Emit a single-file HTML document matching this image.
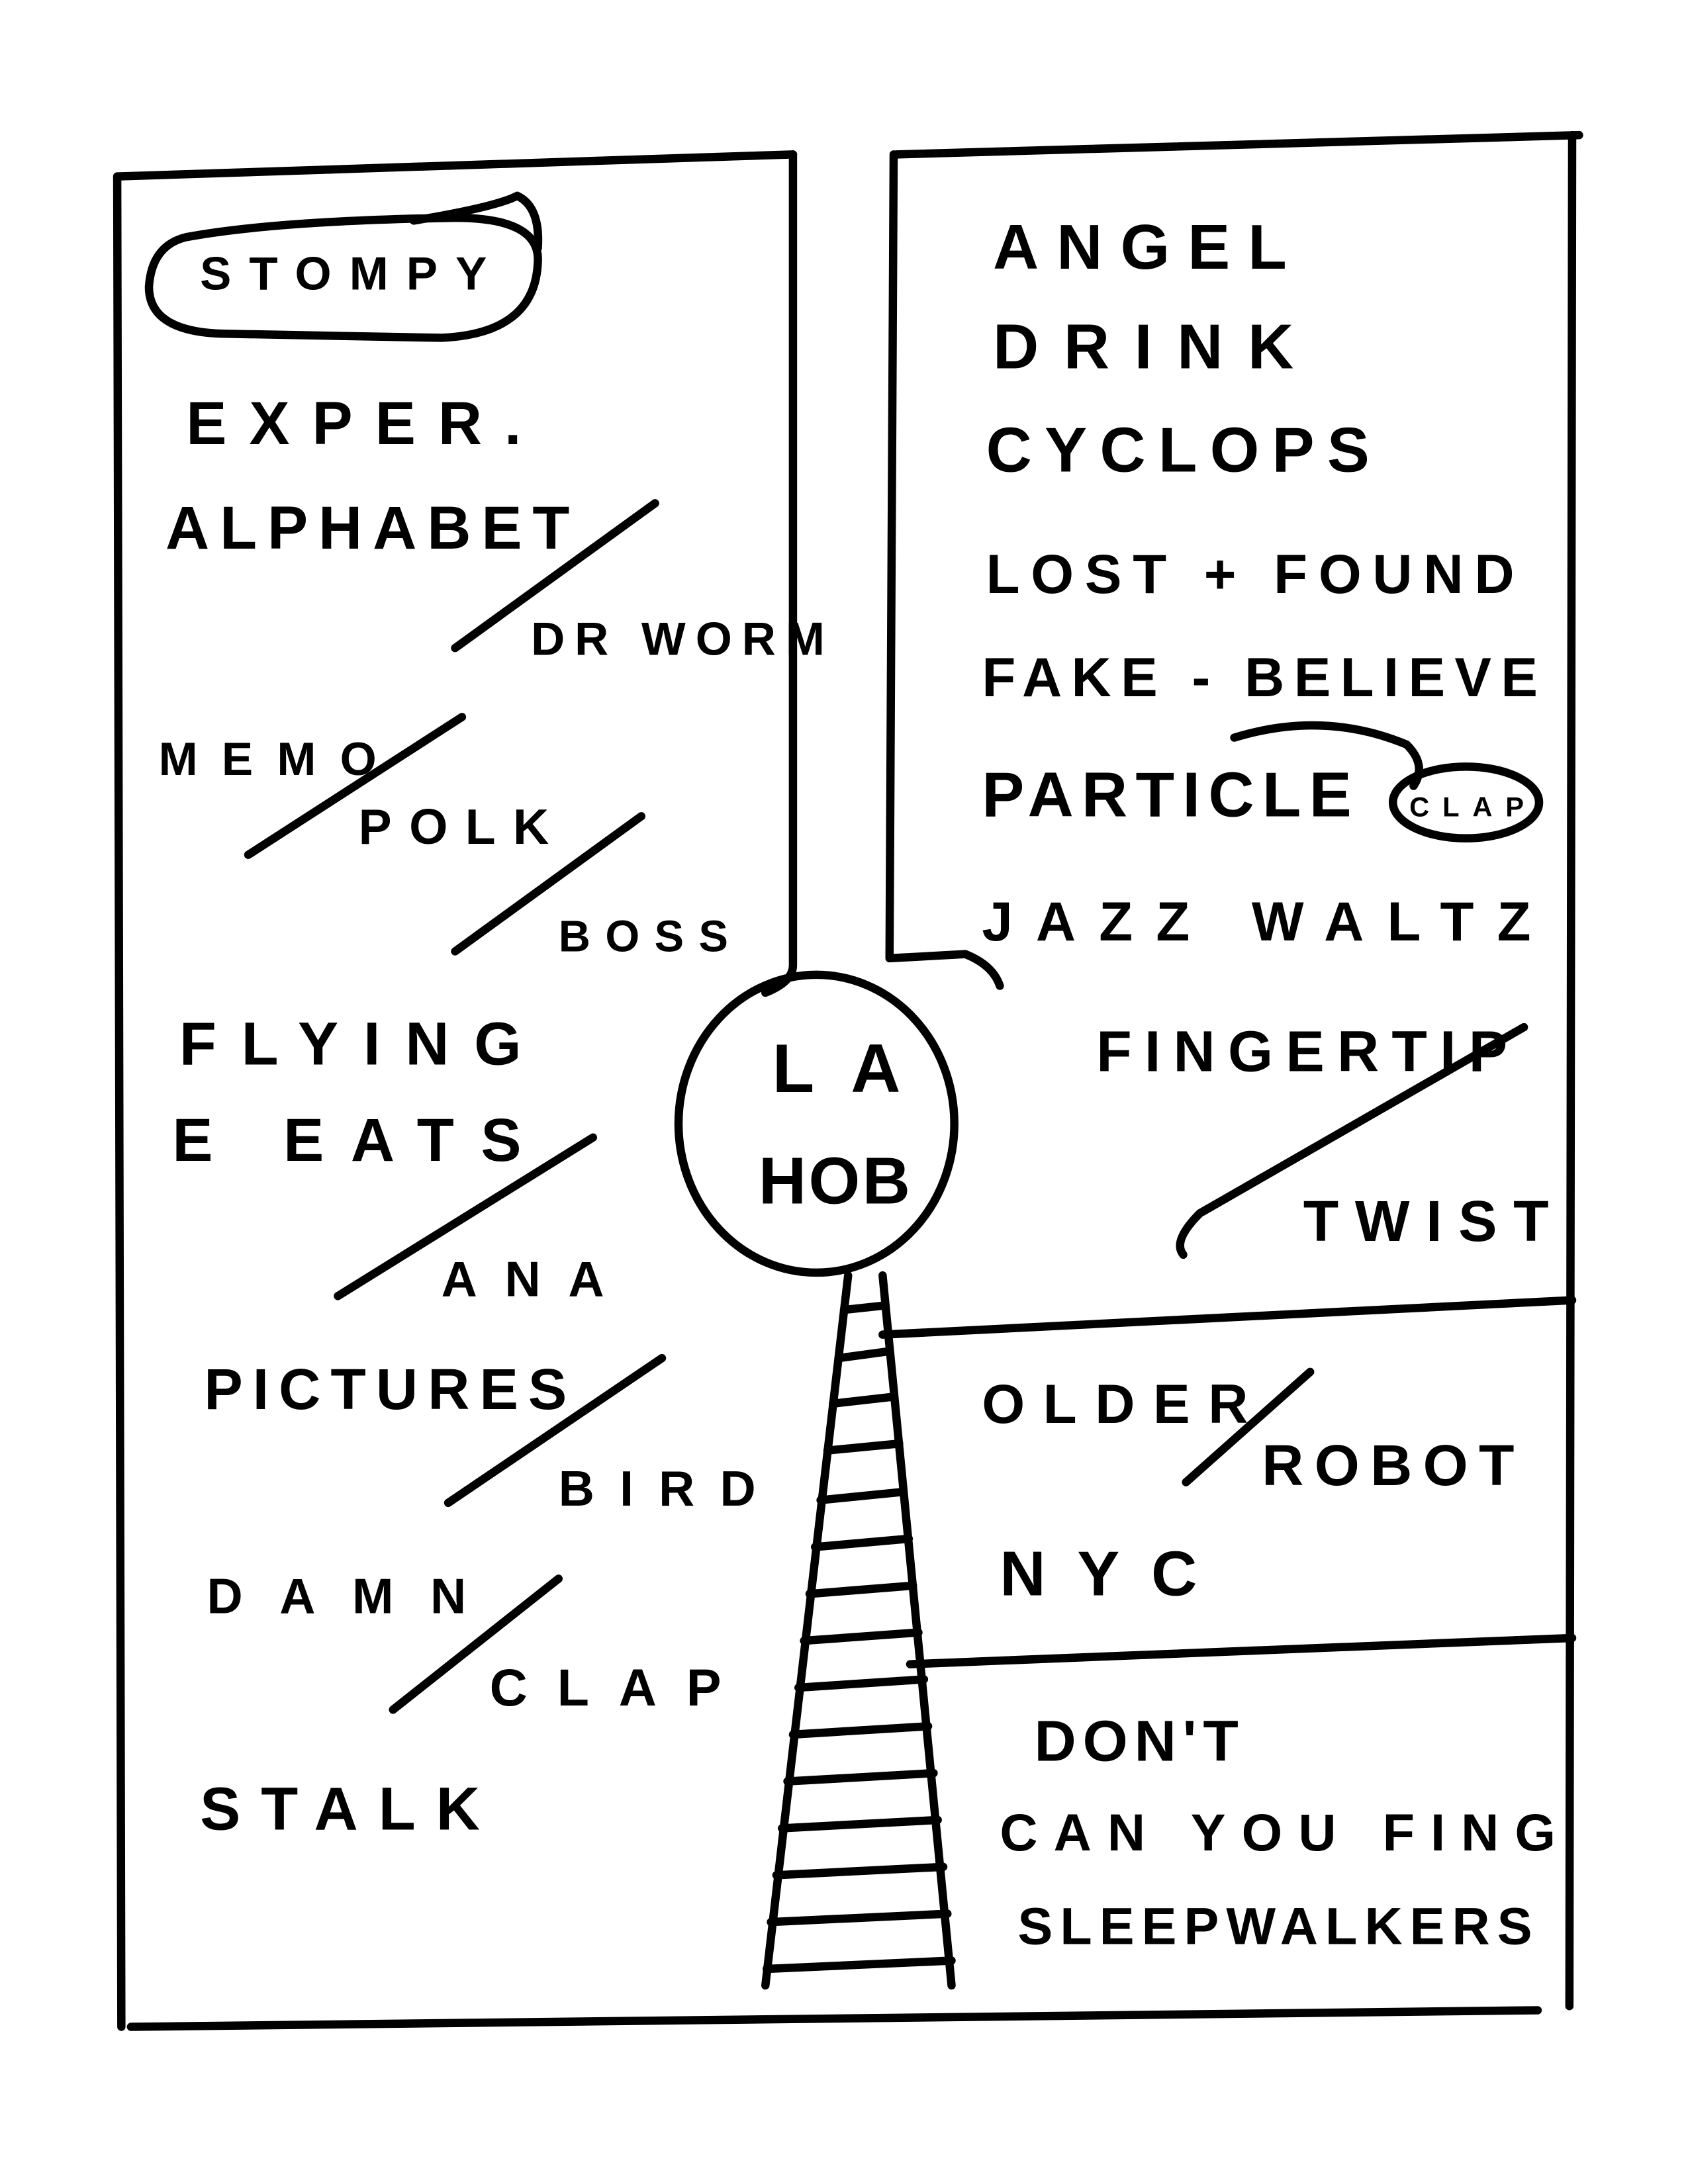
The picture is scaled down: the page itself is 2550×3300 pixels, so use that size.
<!DOCTYPE html>
<html><head><meta charset="utf-8"><style>
html,body{margin:0;padding:0;background:#fff;}
svg{display:block;}
text{font-family:"Liberation Sans",sans-serif;fill:#000;letter-spacing:2px;font-weight:bold;}
</style></head><body>
<svg width="2550" height="3300" viewBox="0 0 1224 1584" preserveAspectRatio="none" xmlns="http://www.w3.org/2000/svg">
<g fill="none" stroke="#000" stroke-width="6" stroke-linecap="round" stroke-linejoin="round">
<path d="M85,128 L575,112"/>
<path d="M85,128 L88,1470"/>
<path d="M575,112 L575,700 Q575,712 555,720"/>
<path d="M650,112 L1145,98"/>
<path d="M1140,98 L1138,1455"/>
<path d="M648,112 L645,695 L700,692 Q720,700 725,715"/>
<ellipse cx="592" cy="815" rx="100" ry="108"/>
<path d="M615,925 L555,1440"/>
<path d="M640,925 L690,1440"/>
<path d="M640,968 L1140,943"/>
<path d="M660,1207 L1140,1188"/>
<path d="M95,1470 L1115,1458"/>
<path d="M135,172 Q200,160 330,158 Q392,158 390,190 Q388,242 320,245 L160,242 Q108,240 108,208 Q110,178 135,172"/>
<path d="M300,160 Q360,150 375,142 Q392,150 390,180"/>
<path d="M330,470 L475,365"/>
<path d="M180,620 L335,520"/>
<path d="M330,690 L465,592"/>
<path d="M245,940 L430,825"/>
<path d="M325,1090 L480,985"/>
<path d="M285,1240 L405,1145"/>
<path d="M858,910 Q850,900 870,880 L1105,745"/>
<path d="M860,1075 L950,995"/>
<path d="M895,535 Q960,515 1020,540 Q1035,555 1025,570"/>
<ellipse cx="1063" cy="582" rx="53" ry="26"/>
</g>
<g stroke="#000" stroke-width="6" stroke-linecap="round">
<line x1="612" y1="950" x2="640" y2="947"/>
<line x1="608" y1="985" x2="645" y2="980"/>
<line x1="604" y1="1018" x2="648" y2="1013"/>
<line x1="600" y1="1052" x2="652" y2="1047"/>
<line x1="595" y1="1088" x2="655" y2="1082"/>
<line x1="591" y1="1122" x2="659" y2="1116"/>
<line x1="587" y1="1156" x2="662" y2="1150"/>
<line x1="583" y1="1190" x2="666" y2="1184"/>
<line x1="579" y1="1224" x2="670" y2="1218"/>
<line x1="575" y1="1258" x2="673" y2="1252"/>
<line x1="571" y1="1292" x2="677" y2="1286"/>
<line x1="567" y1="1326" x2="680" y2="1320"/>
<line x1="563" y1="1360" x2="684" y2="1354"/>
<line x1="559" y1="1394" x2="687" y2="1388"/>
<line x1="556" y1="1428" x2="690" y2="1422"/>
</g>
<g>
<text x="145" y="210" font-size="34" textLength="210">STOMPY</text>
<text x="135" y="322" font-size="44" textLength="245">EXPER.</text>
<text x="120" y="398" font-size="44" textLength="295">ALPHABET</text>
<text x="385" y="475" font-size="34" textLength="215">DR WORM</text>
<text x="115" y="562" font-size="34" textLength="160">MEMO</text>
<text x="260" y="612" font-size="36" textLength="140">POLK</text>
<text x="405" y="690" font-size="32" textLength="125">BOSS</text>
<text x="130" y="772" font-size="44" textLength="250">FLYING</text>
<text x="125" y="842" font-size="44" textLength="255">E EATS</text>
<text x="320" y="940" font-size="36" textLength="120">ANA</text>
<text x="148" y="1022" font-size="42" textLength="265">PICTURES</text>
<text x="405" y="1092" font-size="36" textLength="145">BIRD</text>
<text x="150" y="1170" font-size="36" textLength="190">DAMN</text>
<text x="355" y="1237" font-size="38" textLength="170">CLAP</text>
<text x="145" y="1327" font-size="44" textLength="205">STALK</text>
<text x="720" y="195" font-size="46" textLength="215">ANGEL</text>
<text x="720" y="267" font-size="46" textLength="220">DRINK</text>
<text x="715" y="342" font-size="46" textLength="280">CYCLOPS</text>
<text x="715" y="430" font-size="40" textLength="385">LOST  +  FOUND</text>
<text x="712" y="505" font-size="40" textLength="405">FAKE - BELIEVE</text>
<text x="712" y="592" font-size="46" textLength="270">PARTICLE</text>
<text x="1022" y="592" font-size="20" textLength="85">CLAP</text>
<text x="712" y="682" font-size="40" textLength="400">JAZZ  WALTZ</text>
<text x="795" y="777" font-size="42" textLength="300">FINGERTIP</text>
<text x="945" y="900" font-size="42" textLength="180">TWIST</text>
<text x="712" y="1032" font-size="40" textLength="195">OLDER</text>
<text x="915" y="1077" font-size="42" textLength="185">ROBOT</text>
<text x="725" y="1157" font-size="46" textLength="145">NYC</text>
<text x="750" y="1277" font-size="42" textLength="150">DON'T</text>
<text x="725" y="1342" font-size="38" textLength="405">CAN  YOU  FING</text>
<text x="738" y="1410" font-size="38" textLength="375">SLEEPWALKERS</text>
<text x="560" y="792" font-size="50" textLength="95">LA</text>
<text x="550" y="873" font-size="48" textLength="112">HOB</text>
</g>
</svg>
</body></html>
